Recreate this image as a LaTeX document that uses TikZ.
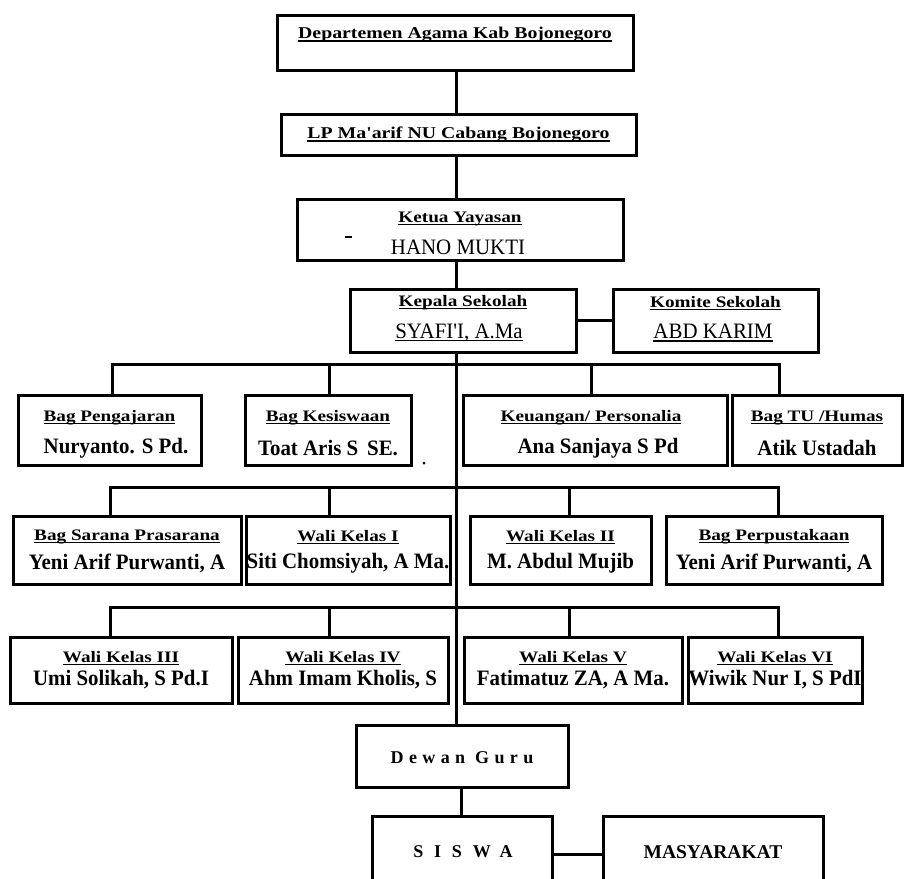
\documentclass[tikz,border=0pt]{standalone}
\usepackage{fontspec}
\setmainfont{Liberation Serif}
\newfontfamily\judulfont[FakeStretch=1.2]{Liberation Serif}
\newfontfamily\namafont[FakeStretch=0.95]{Liberation Serif}
\newsavebox\gbkotak
\newcommand\gbawah[1]{\sbox\gbkotak{#1}\rlap{\rule[-2.6pt]{\wd\gbkotak}{1.2pt}}\usebox\gbkotak}

\begin{document}
\begin{tikzpicture}[x=1pt, y=-1pt,
        kotak/.style={draw, line width=3pt, inner sep=0pt},
        garis/.style={line width=3pt},
        judul/.style={font=\judulfont\bfseries\fontsize{16}{18}\selectfont, inner sep=0pt},
        judulbesar/.style={font=\judulfont\bfseries\fontsize{16.5}{18}\selectfont, inner sep=0pt},
        nama/.style={font=\namafont\bfseries\fontsize{22}{24}\selectfont, inner sep=0pt},
        namatipis/.style={font=\namafont\fontsize{22}{24}\selectfont, inner sep=0pt}]

        \useasboundingbox (0,0) rectangle (904,878);
        \clip (0,0) rectangle (904,878);

        % Departemen dan LP Ma'arif
        \node[kotak, minimum width=356pt, minimum height=55pt] (dept) at (455,42.5) {};
        \node[judulbesar] (dept-t) at (455,35) {\gbawah{Departemen Agama Kab Bojonegoro}};
        \node[kotak, minimum width=355pt, minimum height=41pt] (lp) at (458.5,134.5) {};
        \node[judulbesar] (lp-t) at (458.5,135) {\gbawah{LP Ma'arif NU Cabang Bojonegoro}};

        % Ketua Yayasan
        \node[kotak, minimum width=326pt, minimum height=61pt] (ketua) at (460,229.5) {};
        \node[judul] (ketua-t) at (460,219) {\gbawah{Ketua Yayasan}};
        \node[namatipis] (ketua-n) at (458,247) {HANO MUKTI};
        \draw[line width=1.2pt] (345,237) -- (352,237);

        % Kepala Sekolah dan Komite
        \node[kotak, minimum width=226pt, minimum height=63pt] (kepala) at (463,320.5) {};
        \node[judul] (kepala-t) at (463,303) {\gbawah{Kepala Sekolah}};
        \node[namatipis] (kepala-n) at (459,333) {\gbawah{SYAFI'I, A.Ma}};
        \node[kotak, minimum width=205pt, minimum height=63pt] (komite) at (715.5,320.5) {};
        \node[judul] (komite-t) at (715.5,303) {\gbawah{Komite Sekolah}};
        \node[namatipis] (komite-n) at (713,333) {\gbawah{ABD KARIM}};

        % Baris 1
        \node[kotak, minimum width=183pt, minimum height=70pt] (pengajaran) at (109.5,430) {};
        \node[judul] (pengajaran-t) at (109.5,418) {\gbawah{Bag Pengajaran}};
        \node[nama] (pengajaran-n) at (116,448) {Nuryanto. S Pd.};
        \node[kotak, minimum width=166pt, minimum height=70pt] (kesiswaan) at (328,430) {};
        \node[judul] (kesiswaan-t) at (328,418) {\gbawah{Bag Kesiswaan}};
        \node[nama] (kesiswaan-n) at (328,448) {Toat Aris S\, SE.};
        \node[kotak, minimum width=264pt, minimum height=70pt] (keuangan) at (595,430) {};
        \node[judul] (keuangan-t) at (591,418) {\gbawah{Keuangan/ Personalia}};
        \node[nama] (keuangan-n) at (598,448) {Ana Sanjaya S Pd};
        \node[kotak, minimum width=170pt, minimum height=70pt] (tu) at (817,430) {};
        \node[judul] (tu-t) at (817,418) {\gbawah{Bag TU /Humas}};
        \node[nama] (tu-n) at (817,448) {Atik Ustadah};
        \fill (424,463) circle (1.5);

        % Baris 2
        \node[kotak, minimum width=228pt, minimum height=68pt] (sarana) at (127,550) {};
        \node[judul] (sarana-t) at (127,537) {\gbawah{Bag Sarana Prasarana}};
        \node[nama] (sarana-n) at (127,563) {Yeni Arif Purwanti, A};
        \node[kotak, minimum width=204pt, minimum height=68pt] (wali1) at (348,550) {};
        \node[judul] (wali1-t) at (348,537) {\gbawah{Wali Kelas I}};
        \node[nama] (wali1-n) at (348,563) {Siti Chomsiyah, A Ma.};
        \node[kotak, minimum width=181pt, minimum height=68pt] (wali2) at (560.5,550) {};
        \node[judul] (wali2-t) at (560.5,537) {\gbawah{Wali Kelas II}};
        \node[nama] (wali2-n) at (560.5,563) {M. Abdul Mujib};
        \node[kotak, minimum width=216pt, minimum height=68pt] (perpus) at (774,550) {};
        \node[judul] (perpus-t) at (774,537) {\gbawah{Bag Perpustakaan}};
        \node[nama] (perpus-n) at (774,563) {Yeni Arif Purwanti, A};

        % Baris 3
        \node[kotak, minimum width=222pt, minimum height=66pt] (wali3) at (121,670) {};
        \node[judul] (wali3-t) at (121,658) {\gbawah{Wali Kelas III}};
        \node[nama] (wali3-n) at (121,680) {Umi Solikah, S Pd.I};
        \node[kotak, minimum width=210pt, minimum height=66pt] (wali4) at (343,670) {};
        \node[judul] (wali4-t) at (343,658) {\gbawah{Wali Kelas IV}};
        \node[nama] (wali4-n) at (343,680) {Ahm Imam Kholis, S};
        \node[kotak, minimum width=218pt, minimum height=66pt] (wali5) at (573,670) {};
        \node[judul] (wali5-t) at (573,658) {\gbawah{Wali Kelas V}};
        \node[nama] (wali5-n) at (573,680) {Fatimatuz ZA, A Ma.};
        \node[kotak, minimum width=174pt, minimum height=66pt] (wali6) at (775,670) {};
        \node[judul] (wali6-t) at (775,658) {\gbawah{Wali Kelas VI}};
        \node[nama] (wali6-n) at (775,680) {Wiwik Nur I, S PdI};

        % Dewan Guru, Siswa, Masyarakat
        \node[kotak, minimum width=212pt, minimum height=62pt] (dewan) at (462,756) {};
        \node[judul, font=\bfseries\fontsize{18}{20}\selectfont\addfontfeature{LetterSpace=30}] (dewan-t) at (462,758) {Dewan Guru};
        \node[kotak, minimum width=180pt, minimum height=100pt] (siswa) at (462,866) {};
        \node[judul, font=\bfseries\fontsize{18}{20}\selectfont\addfontfeature{LetterSpace=60}] (siswa-t) at (463,852) {SISWA};
        \node[kotak, minimum width=220pt, minimum height=100pt] (masya) at (713,866) {};
        \node[judul, font=\bfseries\fontsize{19.5}{21}\selectfont] (masya-t) at (713,852) {MASYARAKAT};

        % Garis tengah
        \coordinate (poros) at (456,0);
        \draw[garis] (poros |- dept.south) -- (poros |- lp.north);
        \draw[garis] (poros |- lp.south) -- (poros |- ketua.north);
        \draw[garis] (poros |- ketua.south) -- (poros |- kepala.north);
        \draw[garis] (poros |- kepala.south) -- (poros |- dewan.north);
        \draw[garis] (kepala) -- (komite);
        \draw[garis] ([xshift=-1pt]dewan.south) -- ([xshift=-1pt]dewan.south |- siswa.north);
        \draw[garis] ([yshift=12pt]siswa.east) -- ([yshift=12pt]masya.west);

        % Cabang baris 1
        \coordinate (r1a) at (112,364);
        \coordinate (r1b) at (329,364);
        \coordinate (r1c) at (591,364);
        \coordinate (r1d) at (779,364);
        \draw[garis] (r1a |- pengajaran.north) -- (r1a) -- (r1d) -- (r1d |- tu.north);
        \draw[garis] (r1b) -- (r1b |- kesiswaan.north);
        \draw[garis] (r1c) -- (r1c |- keuangan.north);

        % Cabang baris 2
        \coordinate (r2a) at (110,487);
        \coordinate (r2b) at (329,487);
        \coordinate (r2c) at (569,487);
        \coordinate (r2d) at (778,487);
        \draw[garis] (r2a |- sarana.north) -- (r2a) -- (r2d) -- (r2d |- perpus.north);
        \draw[garis] (r2b) -- (r2b |- wali1.north);
        \draw[garis] (r2c) -- (r2c |- wali2.north);

        % Cabang baris 3
        \coordinate (r3a) at (110,607);
        \coordinate (r3b) at (329,607);
        \coordinate (r3c) at (569,607);
        \coordinate (r3d) at (778,607);
        \draw[garis] (r3a |- wali3.north) -- (r3a) -- (r3d) -- (r3d |- wali6.north);
        \draw[garis] (r3b) -- (r3b |- wali4.north);
        \draw[garis] (r3c) -- (r3c |- wali5.north);

    \end{tikzpicture}
\end{document}
